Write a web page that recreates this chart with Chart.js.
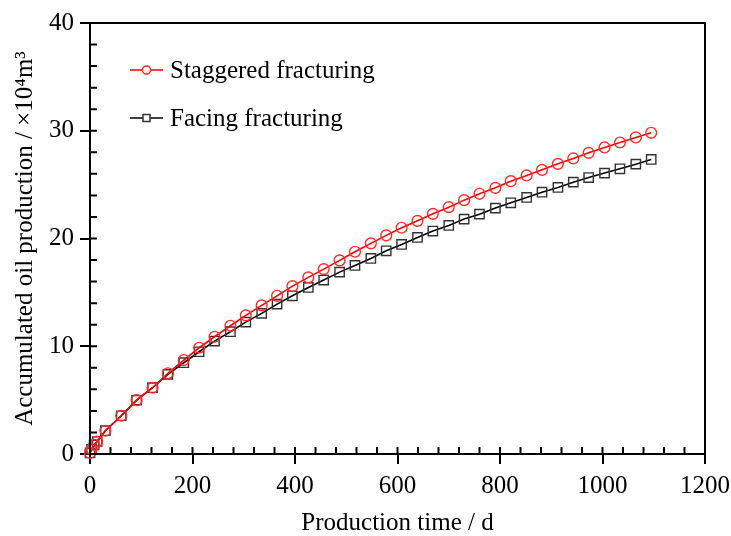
<!DOCTYPE html>
<html>
<head>
<meta charset="utf-8">
<script src="https://cdn.jsdelivr.net/npm/chart.js@4.4.0/dist/chart.umd.min.js"></script>
<style>
  body { margin: 0; background: #fff; }
  #wrap { width: 731px; height: 536px; }
</style>
</head>
<body>
<div id="wrap"><canvas id="chart" width="731" height="536"></canvas></div>
<script>
// production time, days (early points, then roughly monthly to 3 years)
const days = [0, 3, 8, 14, 30, 61, 91, 122, 152, 183, 213, 243, 274, 304, 335, 365, 395, 426, 456, 487,
  517, 548, 578, 608, 639, 669, 700, 730, 760, 791, 821, 852, 882, 913, 943, 973, 1004, 1034, 1065, 1095];

// accumulated oil production, 10^4 m3
const staggered = [0.1, 0.44, 0.84, 1.16, 2.16, 3.55, 5.0, 6.15, 7.49, 8.72, 9.86, 10.88, 11.90, 12.87, 13.79, 14.68,
  15.58, 16.39, 17.16, 17.97, 18.77, 19.55, 20.29, 21.0, 21.64, 22.29, 22.91, 23.56, 24.15, 24.70, 25.32, 25.85,
  26.37, 26.93, 27.43, 27.95, 28.45, 28.91, 29.38, 29.81];
const facing = [0.1, 0.44, 0.84, 1.16, 2.16, 3.55, 5.0, 6.15, 7.39, 8.47, 9.49, 10.48, 11.35, 12.24, 13.05, 13.91,
  14.68, 15.46, 16.14, 16.88, 17.50, 18.15, 18.86, 19.45, 20.10, 20.69, 21.21, 21.80, 22.26, 22.82, 23.31, 23.81,
  24.30, 24.74, 25.23, 25.66, 26.07, 26.47, 26.90, 27.34];

const seriesNames = ['Staggered fracturing', 'Facing fracturing'];
const xTitle = 'Production time / d';
const yTitle = 'Accumulated oil production / \u00d710\u2074m\u00b3';

const serif = '"Liberation Serif", "Times New Roman", serif';
const bigFont = { family: serif, size: 25 };

function toPoints(ys) {
  return days.map((d, i) => ({ x: d, y: ys[i] }));
}

// frame, inner minor ticks and the legend inside the plot
const extras = {
  id: 'extras',
  afterDraw(chart) {
    const ctx = chart.ctx;
    const area = chart.chartArea;
    const xs = chart.scales.x, ys = chart.scales.y;
    ctx.save();
    ctx.strokeStyle = '#000';
    ctx.lineWidth = 2;
    ctx.strokeRect(area.left, area.top, area.right - area.left, area.bottom - area.top);

    ctx.beginPath();
    for (let v = 0; v <= 1200; v += 40) {
      const px = xs.getPixelForValue(v);
      ctx.moveTo(px, area.bottom);
      ctx.lineTo(px, area.bottom - 7);
    }
    for (let v = 0; v <= 40; v += 2) {
      const py = ys.getPixelForValue(v);
      ctx.moveTo(area.left, py);
      ctx.lineTo(area.left + 7, py);
    }
    ctx.stroke();

    // legend
    chart.data.datasets.forEach((ds, i) => {
      const y = area.top + 47 + i * 48;
      const x0 = area.left + 40, x1 = area.left + 73;
      ctx.strokeStyle = ds.borderColor;
      ctx.lineWidth = 1.5;
      ctx.beginPath();
      ctx.moveTo(x0, y);
      ctx.lineTo(x1, y);
      ctx.stroke();
      ctx.fillStyle = '#fff';
      ctx.strokeStyle = ds.pointBorderColor;
      Chart.helpers.drawPoint(ctx, {
        pointStyle: ds.pointStyle, radius: ds.pointRadius * 0.75, borderWidth: 1.2
      }, (x0 + x1) / 2, y);
      ctx.fillStyle = '#000';
      ctx.font = '25px ' + serif;
      ctx.textBaseline = 'middle';
      ctx.textAlign = 'left';
      ctx.fillText(ds.label, x1 + 7, y + 1);
    });
    ctx.restore();
  }
};

new Chart(document.getElementById('chart'), {
  type: 'line',
  data: {
    datasets: [
      {
        label: seriesNames[0],
        data: toPoints(staggered),
        borderColor: '#ff0000',
        borderWidth: 1.6,
        pointStyle: 'circle',
        pointRadius: 5.4,
        pointBorderColor: '#ff2a2a',
        pointBackgroundColor: 'rgba(0,0,0,0)',
        pointBorderWidth: 1.4,
        tension: 0,
        clip: false
      },
      {
        label: seriesNames[1],
        data: toPoints(facing),
        borderColor: '#000',
        borderWidth: 1.6,
        pointStyle: 'rect',
        pointRadius: 6.6,
        pointBorderColor: '#333',
        pointBackgroundColor: 'rgba(0,0,0,0)',
        pointBorderWidth: 1.4,
        tension: 0,
        clip: false
      }
    ]
  },
  options: {
    responsive: false,
    animation: false,
    layout: { padding: { top: 23, right: 26, left: 0, bottom: 0 } },
    plugins: { legend: { display: false }, tooltip: { enabled: false } },
    scales: {
      x: {
        type: 'linear',
        min: 0,
        max: 1200,
        ticks: { stepSize: 200, color: '#000', font: bigFont, padding: 7, maxRotation: 0,
          callback: v => String(v) },
        grid: { drawOnChartArea: false, tickLength: 10, color: '#000', lineWidth: 2 },
        border: { color: '#000', width: 2 },
        title: { display: true, text: xTitle, color: '#000', font: bigFont, padding: { top: 0, bottom: -2 } },
        afterFit: s => { s.height = 82; s.paddingLeft = 0; s.paddingRight = 0; }
      },
      y: {
        type: 'linear',
        min: 0,
        max: 40,
        ticks: { stepSize: 10, color: '#000', font: bigFont, padding: 6, callback: v => String(v) },
        grid: { drawOnChartArea: false, tickLength: 10, color: '#000', lineWidth: 2 },
        border: { color: '#000', width: 2 },
        title: { display: true, text: yTitle, color: '#000', font: bigFont, padding: { top: 10, bottom: 0 } },
        afterFit: s => { s.width = 90; s.paddingTop = 0; s.paddingBottom = 0; }
      }
    }
  },
  plugins: [extras]
});
</script>
</body>
</html>
